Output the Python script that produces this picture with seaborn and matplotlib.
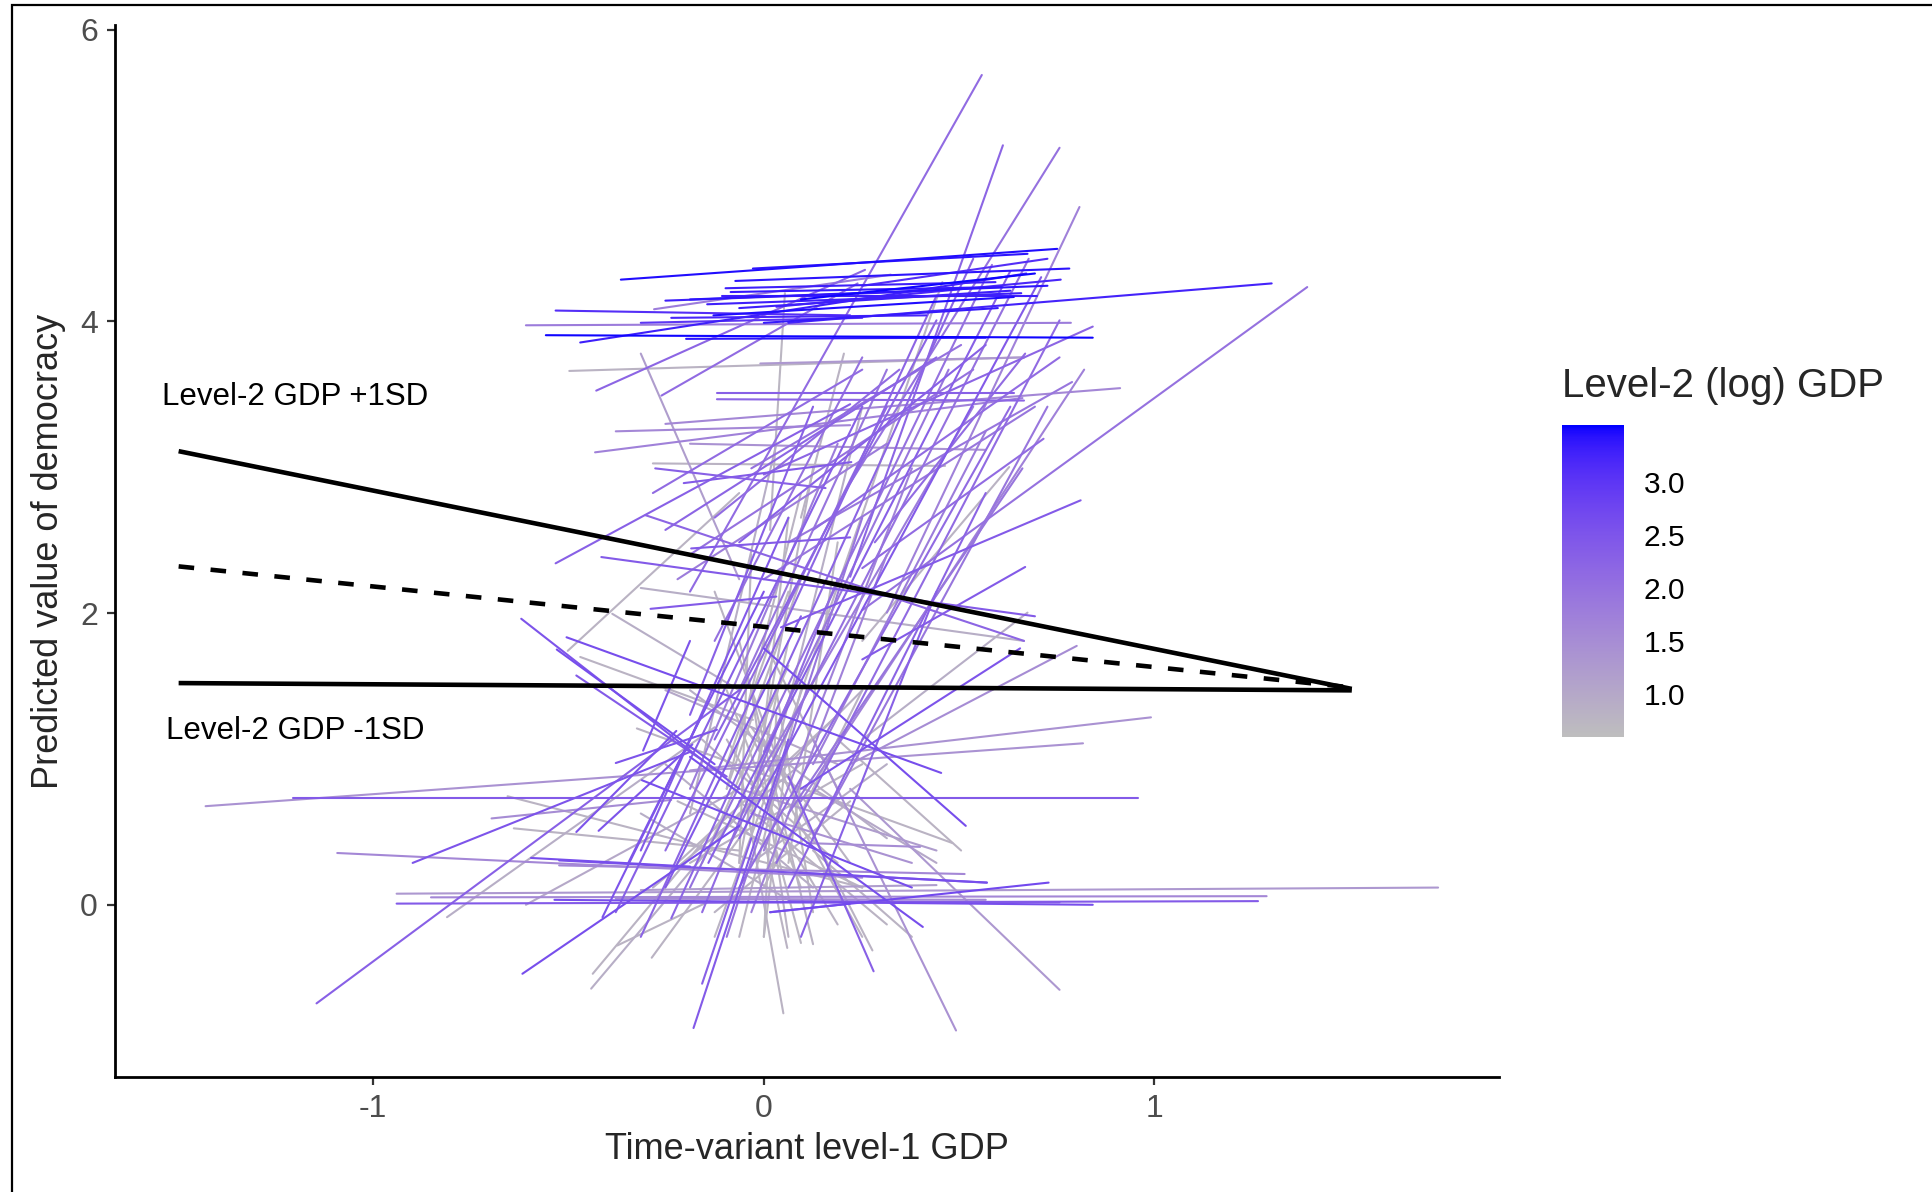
import numpy as np
import pandas as pd
import matplotlib
matplotlib.use("Agg")
import matplotlib.pyplot as plt
from matplotlib.colors import ListedColormap, Normalize
from matplotlib.cm import ScalarMappable
from matplotlib.patches import Rectangle
import seaborn as sns

# ---------------- data (segment endpoints in data units, level-2 GDP colour value) ----------------
seg_x1 = [-0.366,-0.028,-0.073,-0.098,-0.085,-0.107,-0.145,-0.237,-0.129,0.032,-0.533,-0.558,-0.470,-0.609,0.063,-0.199,0.0,-0.252,
          -0.189,-0.063,0.095,-0.315,0.252,
          0.558,0.612,0.757,0.808,1.391,
          -0.429,-0.262,-0.281,0.842,0.669,-0.009,-0.498,-0.120,-0.120,-0.252,-0.432,-0.284,-0.278,-0.205,-0.533,-0.416,-0.303,-0.315,-0.186,-0.290,-0.315,0.716,0.811,0.669,0.675,0.656,0.801,0.628,-0.502,-0.388,
          -0.284,-0.032,0.063,-0.379,-0.189,
          -0.237,-0.189,-0.142,-0.095,-0.063,-0.315,-0.032,0.0,-0.252,-0.379,0.032,0.095,-0.126,-0.063,-0.189,-0.315,0.063,0.126,-0.189,-0.126,-0.095,-0.032,-0.158,0.095,-0.252,0.0,-0.063,0.063,0.126,-0.347,
          -0.252,-0.189,-0.063,-0.126,0.0,-0.221,0.126,
          -0.063,-0.032,0.0,-0.095,0.063,-0.189,0.032,0.054,0.205,-0.158,-0.063,0.0,0.063,-0.126,-0.221,-0.095,-0.315,-0.032,0.032,-0.189,-0.063,-0.126,-0.032,0.095,-0.252,
          -0.095,0.063,-0.158,-0.063,0.0,-0.221,-0.032,-0.284,0.126,-0.126,0.063,
          -0.180,-0.158,0.050,0.060,0.095,0.492,0.757,0.281,0.278,0.407,-0.442,-0.438,-0.618,-0.287,-1.145,-0.811,-0.609,-0.899,-0.697,-0.656,-0.640,-1.092,-0.596,-1.429,-1.205,-0.189,-0.505,0.0,-0.325,0.016,-0.524,-0.524,-0.621,-0.530,-0.480,-0.470,
          -0.940,-0.940,-0.852,-0.536,-0.379,0.063,-0.315,
          0.091,0.110,-0.375,0.016,-0.423,-0.480,-0.309,-0.379,-0.413,-0.312,
          -0.189,-0.126,-0.063,-0.252,0.126,0.189,-0.095,0.252,-0.063,-0.032]
seg_y1 = [4.286,4.362,4.277,4.227,4.201,4.176,4.117,4.024,4.041,4.100,4.074,3.905,3.855,3.973,3.990,3.880,3.990,4.142,
          4.150,4.091,4.150,3.990,4.244,
          5.689,5.207,5.190,4.784,4.235,
          3.525,3.491,4.083,3.964,3.779,3.711,3.660,3.508,3.466,3.297,3.102,3.026,2.992,2.891,2.341,2.384,2.671,2.172,2.443,2.029,3.779,3.195,2.773,2.316,2.003,1.758,1.775,3.001,1.741,1.995,
          2.823,2.992,2.485,3.246,3.161,
          -0.093,0.118,0.287,0.372,0.456,-0.220,0.795,1.048,0.372,-0.051,0.287,0.710,1.133,1.471,0.795,0.372,0.118,0.456,1.302,1.809,-0.220,-0.051,-0.051,-0.220,0.118,0.372,0.118,0.626,0.964,0.287,
          2.570,2.401,2.485,2.654,2.232,2.232,2.570,
          0.287,0.456,0.710,0.795,0.287,0.626,0.964,4.193,3.779,0.287,-0.220,-0.220,-0.220,0.456,0.710,1.133,0.626,1.217,1.471,1.471,1.809,2.147,2.401,2.232,1.471,
          0.964,1.133,1.133,1.302,1.809,0.287,0.287,0.118,0.372,-0.220,1.809,
          -0.845,-0.541,-0.744,-0.296,-0.262,-0.862,-0.583,-0.456,-0.313,-0.152,-0.575,-0.473,-0.473,-0.363,-0.676,-0.085,0.0,0.287,0.592,0.744,0.524,0.355,0.321,0.676,0.735,0.921,1.834,1.758,1.209,-0.051,0.304,0.270,1.961,1.750,1.572,1.699,
          0.076,0.008,0.051,0.034,0.042,0.025,0.101,
          0.220,0.423,-0.279,-0.051,0.507,0.499,1.057,0.972,-0.085,0.854,
          0.287,-0.051,0.710,0.964,0.795,1.133,1.471,1.471,0.795,0.626]
seg_x2 = [0.751,0.675,0.782,0.593,0.609,0.700,0.659,0.416,0.640,0.760,0.221,0.842,0.672,0.786,1.300,0.568,0.599,0.442,
          0.726,0.631,0.694,0.252,0.726,
          -0.189,0.221,0.221,0.315,0.252,
          0.259,0.240,0.325,0.0,0.284,0.666,0.666,0.640,0.666,0.912,0.662,0.464,0.158,0.224,0.221,0.694,0.666,0.666,0.221,0.032,-0.063,0.252,0.044,0.252,0.252,0.095,0.221,0.252,-0.063,-0.063,
          0.252,0.505,0.789,0.221,0.568,
          0.536,0.584,0.631,0.678,0.710,0.442,0.536,0.473,0.315,0.252,0.757,0.820,0.442,0.315,0.189,0.063,0.568,0.726,0.126,0.252,0.252,0.315,0.189,0.442,0.095,0.379,0.631,0.662,0.568,0.0,
          0.442,0.536,0.568,0.347,0.694,0.315,0.757,
          0.126,0.063,0.252,0.095,0.189,0.032,0.457,0.016,0.095,0.063,0.095,0.032,-0.032,0.252,0.252,0.189,0.063,0.221,0.126,0.315,0.126,0.063,-0.063,-0.095,0.189,
          0.063,0.0,0.189,0.252,0.189,0.189,0.315,0.095,0.379,0.0,-0.032,
          0.063,-0.032,-0.063,0.0,0.032,0.126,0.221,0.063,0.0,-0.189,-0.063,-0.095,-0.063,-0.063,-0.063,-0.126,-0.063,-0.189,-0.237,0.252,-0.063,0.252,-0.189,0.817,0.959,0.991,0.454,0.517,0.483,0.729,0.571,0.514,-0.063,-0.126,-0.095,-0.028,
          1.726,1.265,1.287,0.842,0.568,0.757,0.442,
          0.571,0.400,-0.139,0.221,-0.183,-0.224,-0.189,-0.120,-0.158,0.379,
          0.252,0.221,0.315,0.126,0.442,0.505,0.095,0.0,0.442,0.379]
seg_y2 = [4.497,4.463,4.362,4.269,4.235,4.176,4.193,4.041,4.167,4.286,4.041,3.888,4.328,3.990,4.260,3.888,4.091,4.210,
          4.244,4.210,4.328,4.024,4.429,
          2.147,2.249,2.891,2.003,2.020,
          4.353,4.260,4.320,2.950,2.485,3.753,3.753,3.508,3.457,3.542,3.474,3.009,2.857,3.035,3.432,1.978,1.809,1.809,2.519,2.113,2.232,2.308,1.902,1.682,1.133,0.795,0.964,1.809,2.823,1.471,
          3.669,3.838,3.584,3.288,3.119,
          4.429,4.387,4.345,4.429,4.303,4.176,3.415,3.669,3.415,3.415,4.007,3.669,4.007,3.669,3.161,2.654,2.823,3.415,3.415,3.753,2.654,2.401,2.232,2.147,1.978,2.992,3.415,2.992,3.246,2.147,
          3.753,3.669,3.838,3.669,3.415,3.161,3.753,
          2.992,2.654,3.415,2.823,2.485,3.161,4.269,2.570,2.654,1.640,1.471,1.302,1.471,1.471,0.118,-0.135,0.034,0.287,-0.051,0.456,-0.270,0.795,0.287,0.795,0.964,
          2.147,-0.220,0.287,-0.220,0.795,1.302,0.964,0.964,-0.220,0.710,0.626,
          1.133,0.456,0.964,0.456,0.372,1.133,0.795,0.879,1.133,1.014,0.626,0.626,0.541,0.456,1.471,1.217,0.795,1.048,0.719,0.118,0.372,0.186,0.262,1.107,0.735,1.285,0.904,0.541,0.423,0.152,0.152,0.211,0.795,0.964,0.879,1.268,
          0.118,0.025,0.059,0.0,0.034,0.017,0.135,
          0.152,0.397,0.025,0.008,1.099,1.192,1.809,1.200,1.302,0.118,
          0.964,0.710,-0.135,0.118,0.287,0.372,0.118,0.118,0.372,0.287]
seg_gdp = [3.45,3.4,3.4,3.3,3.35,3.3,3.3,3.2,3.45,3.2,3.1,3.5,3.3,1.8,3.25,3.4,3.35,3.3,
           3.4,3.3,3.5,3.0,3.1,
           2.1,2.2,2.0,1.7,2.0,
           2.2,2.1,1.8,2.2,2.1,1.3,0.8,2.3,2.2,1.6,1.7,0.8,2.3,2.4,2.3,2.4,2.2,0.9,2.4,2.4,1.2,2.1,2.4,2.4,0.9,2.5,1.5,0.8,0.8,0.9,
           2.1,2.0,1.9,1.6,1.4,
           2.2,2.0,2.3,2.0,2.4,2.2,1.8,1.9,2.1,2.3,2.1,1.7,2.2,1.9,1.8,2.4,2.2,1.9,2.3,2.0,1.9,1.7,2.1,2.3,2.4,1.7,2.1,1.9,1.8,2.5,
           2.2,2.0,2.3,2.1,1.9,1.8,2.1,
           0.8,0.7,0.9,0.8,0.7,0.9,0.8,0.75,0.8,0.7,0.8,0.7,0.8,0.9,0.8,0.8,0.9,0.8,0.7,0.9,0.8,0.8,0.7,0.8,1.0,
           0.7,0.75,0.8,0.8,0.8,0.8,0.9,0.9,0.8,0.8,0.7,
           2.4,2.3,0.8,0.8,0.75,1.4,1.3,2.3,0.8,2.6,0.9,0.8,2.6,0.8,2.3,0.9,1.0,2.5,1.5,0.8,0.8,1.6,2.6,1.4,2.4,1.4,2.6,2.6,0.8,2.7,2.5,1.6,2.5,2.6,2.4,0.8,
           1.3,2.4,1.6,2.6,1.5,2.3,1.2,
           2.6,1.5,0.8,2.6,2.5,2.5,2.5,2.5,2.5,2.6,
           0.8,0.8,0.8,0.9,1.0,0.8,0.7,0.8,1.2,1.4]

# fitted lines (Level-2 GDP +1SD, mean, -1SD)
fit_x = [-1.498, 1.505]
fit_hi = [3.11, 1.48]
fit_mean = [2.32, 1.49]
fit_lo = [1.52, 1.47]

x_ticks = [-1, 0, 1]
y_ticks = [0, 2, 4, 6]
cbar_ticks = [1.0, 1.5, 2.0, 2.5, 3.0]
gdp_range = (0.59, 3.53)

# ---------------- colour scale: grey -> blue interpolated in Lab (ggplot style) ----------------
def srgb_to_lab(rgb):
    rgb = np.asarray(rgb, float)
    lin = np.where(rgb <= 0.04045, rgb / 12.92, ((rgb + 0.055) / 1.055) ** 2.4)
    M = np.array([[0.4124564, 0.3575761, 0.1804375],
                  [0.2126729, 0.7151522, 0.0721750],
                  [0.0193339, 0.1191920, 0.9503041]])
    xyz = M @ lin / np.array([0.95047, 1.0, 1.08883])
    f = np.where(xyz > 0.008856, np.cbrt(xyz), 7.787 * xyz + 16 / 116)
    return np.array([116 * f[1] - 16, 500 * (f[0] - f[1]), 200 * (f[1] - f[2])])

def lab_to_srgb(lab):
    L, a, b = lab
    fy = (L + 16) / 116
    fx = fy + a / 500
    fz = fy - b / 200
    f = np.array([fx, fy, fz])
    xyz = np.where(f ** 3 > 0.008856, f ** 3, (f - 16 / 116) / 7.787) * np.array([0.95047, 1.0, 1.08883])
    Minv = np.array([[3.2404542, -1.5371385, -0.4985314],
                     [-0.9692660, 1.8760108, 0.0415560],
                     [0.0556434, -0.2040259, 1.0572252]])
    lin = Minv @ xyz
    lin = np.clip(lin, 0, 1)
    srgb = np.where(lin <= 0.0031308, 12.92 * lin, 1.055 * lin ** (1 / 2.4) - 0.055)
    return np.clip(srgb, 0, 1)

lab_lo = srgb_to_lab([190 / 255, 190 / 255, 190 / 255])
lab_hi = srgb_to_lab([0.0, 0.0, 1.0])
cols = [lab_to_srgb(lab_lo + t * (lab_hi - lab_lo)) for t in np.linspace(0, 1, 256)]
cmap = ListedColormap(cols)
norm = Normalize(*gdp_range)

# ---------------- long-form table ----------------
n = len(seg_gdp)
df = pd.DataFrame({
    "x": np.concatenate([seg_x1, seg_x2]),
    "y": np.concatenate([seg_y1, seg_y2]),
    "id": np.concatenate([np.arange(n), np.arange(n)]),
    "gdp": np.concatenate([seg_gdp, seg_gdp]),
})
fits = pd.DataFrame({"x": fit_x * 3, "y": fit_hi + fit_mean + fit_lo,
                     "which": ["hi"] * 2 + ["mean"] * 2 + ["lo"] * 2})

# ---------------- figure ----------------
sns.set_style("ticks")
plt.rcParams["font.family"] = ["Liberation Sans", "DejaVu Sans"]

fig = plt.figure(figsize=(19.32, 11.92), dpi=100)
ax = fig.add_axes([0.0593, 0.0962, 0.7168, 0.8831])

sns.lineplot(data=df, x="x", y="y", hue="gdp", units="id", estimator=None, sort=False,
             palette=cmap, hue_norm=norm, legend=False, linewidth=1.5, ax=ax)

for w, ls in [("hi", "-"), ("mean", "--"), ("lo", "-")]:
    sub = fits[fits["which"] == w]
    line, = ax.plot(sub["x"], sub["y"], color="black", linewidth=3.3, linestyle=ls,
                    solid_capstyle="butt", zorder=5)
    if ls == "--":
        line.set_dashes((3.4, 3.6))

ax.text(-1.54, 3.48, "Level-2 GDP +1SD", fontsize=22.5, va="center", ha="left", color="black")
ax.text(-1.53, 1.19, "Level-2 GDP -1SD", fontsize=22.5, va="center", ha="left", color="black")

ax.set_xlim(-1.662, 1.883)
ax.set_ylim(-1.183, 6.034)
ax.set_xticks(x_ticks)
ax.set_xticklabels([str(v) for v in x_ticks])
ax.set_yticks(y_ticks)
ax.set_yticklabels([str(v) for v in y_ticks])
ax.tick_params(axis="both", labelsize=23, labelcolor="#4D4D4D", color="#333333",
               length=6, width=1.6, pad=6)
ax.set_xlabel("Time-variant level-1 GDP", fontsize=26, labelpad=6)
ax.set_ylabel("Predicted value of democracy", fontsize=26, labelpad=10)
for s in ["top", "right"]:
    ax.spines[s].set_visible(False)
for s in ["left", "bottom"]:
    ax.spines[s].set_linewidth(2.0)
    ax.spines[s].set_color("black")

# colour bar legend
cax = fig.add_axes([0.8087, 0.3816, 0.0319, 0.2616])
sm = ScalarMappable(norm=norm, cmap=cmap)
cb = fig.colorbar(sm, cax=cax)
cb.outline.set_visible(False)
cb.set_ticks(cbar_ticks)
cb.set_ticklabels([f"{v:.1f}" for v in cbar_ticks])
cax.tick_params(axis="y", which="both", direction="in", color="white", width=1.3, length=8,
                left=True, right=True, labelleft=False, labelright=True,
                labelsize=21.5, labelcolor="black", pad=14)
fig.text(0.8087, 0.676, "Level-2 (log) GDP", fontsize=29, ha="left", va="center")

# outer frame
fig.patches.append(Rectangle((12 / 1932, -0.01), 1.02, 1 - 5 / 1192 + 0.01, transform=fig.transFigure,
                             fill=False, edgecolor="black", linewidth=1.6, zorder=10))

fig.savefig("out.png", dpi=100)
